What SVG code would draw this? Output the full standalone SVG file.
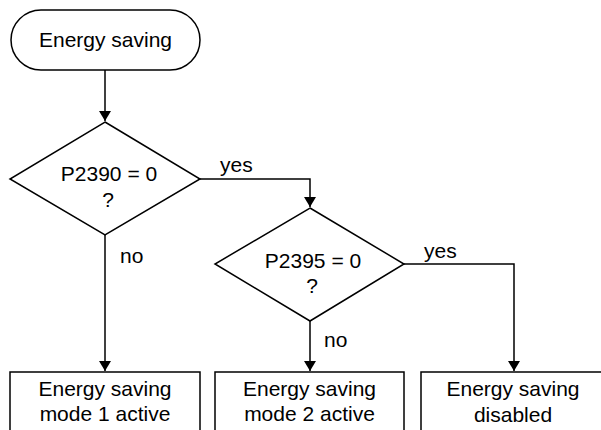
<svg xmlns="http://www.w3.org/2000/svg" width="601" height="430" viewBox="0 0 601 430">
<style>
.s{fill:#fff;stroke:#000;stroke-width:1.5}
.c{fill:none;stroke:#000;stroke-width:1.5}
text{font-family:"Liberation Sans",Arial,sans-serif;font-size:21px;fill:#000}
.m{text-anchor:middle}
</style>
<defs>
<marker id="a" markerWidth="10" markerHeight="12" refX="10" refY="6" orient="auto" markerUnits="userSpaceOnUse">
<path d="M0,0 L10,6 L0,12 Z" fill="#000"/>
</marker>
</defs>
<rect width="601" height="430" fill="#fff"/>
<g id="connectors">
<path class="c" d="M105,70 V121" marker-end="url(#a)"/>
<path class="c" d="M105,235 V371" marker-end="url(#a)"/>
<path class="c" d="M200,179 H310 V207" marker-end="url(#a)"/>
<path class="c" d="M310,321 V371" marker-end="url(#a)"/>
<path class="c" d="M404,264 H514 V371" marker-end="url(#a)"/>
<text x="220" y="172">yes</text>
<text x="424" y="258">yes</text>
<text x="120" y="263">no</text>
<text x="324" y="347">no</text>
</g>
<g id="start">
<rect class="s" x="11" y="10" width="189" height="60" rx="30" ry="30"/>
<text class="m" x="105.5" y="47">Energy saving</text>
</g>
<g id="decision1">
<polygon class="s" points="105,122 200,179 105,235 10,179"/>
<text class="m" x="109" y="181">P2390 = 0</text>
<text class="m" x="108" y="207">?</text>
</g>
<g id="decision2">
<polygon class="s" points="310,208 404,264 310,321 215,264"/>
<text class="m" x="313" y="268">P2395 = 0</text>
<text class="m" x="312" y="293">?</text>
</g>
<g id="mode1">
<rect class="s" x="10" y="372" width="190" height="70"/>
<text class="m" x="105" y="396">Energy saving</text>
<text class="m" x="105" y="421">mode 1 active</text>
</g>
<g id="mode2">
<rect class="s" x="215" y="372" width="189" height="70"/>
<text class="m" x="309.5" y="396">Energy saving</text>
<text class="m" x="309.5" y="421">mode 2 active</text>
</g>
<g id="disabled">
<rect class="s" x="421" y="372" width="200" height="70"/>
<text class="m" x="513" y="396">Energy saving</text>
<text class="m" x="513" y="422">disabled</text>
</g>
</svg>
